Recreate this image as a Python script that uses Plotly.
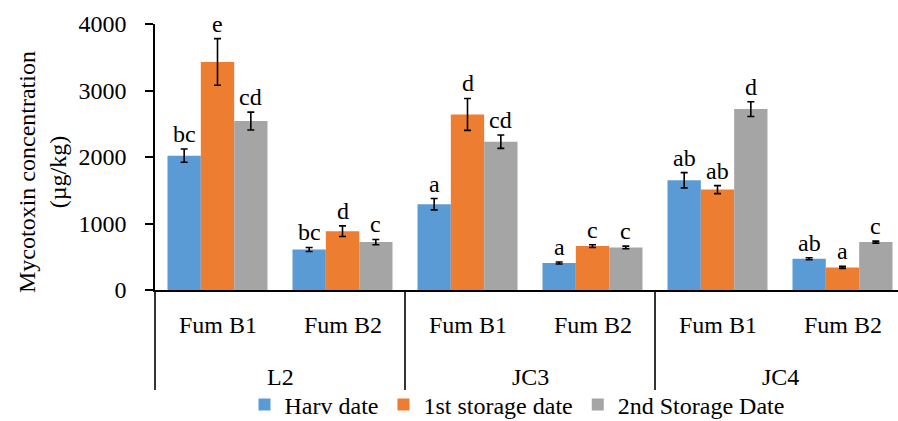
import plotly.graph_objects as go

# ---- data ----
sub_labels = ["Fum B1", "Fum B2", "Fum B1", "Fum B2", "Fum B1", "Fum B2"]
group_labels = ["L2", "JC3", "JC4"]
series_names = ["Harv date", "1st storage date", "2nd Storage Date"]
colors = ["#5B9BD5", "#ED7D31", "#A5A5A5"]

harv = [2020, 610, 1290, 405, 1650, 470]
harv_err = [100, 30, 85, 15, 115, 15]
harv_let = ["bc", "bc", "a", "a", "ab", "ab"]

st1 = [3430, 885, 2640, 660, 1510, 340]
st1_err = [350, 80, 240, 20, 60, 15]
st1_let = ["e", "d", "d", "c", "ab", "a"]

st2 = [2540, 720, 2230, 640, 2720, 720]
st2_err = [135, 40, 100, 20, 110, 15]
st2_let = ["cd", "c", "cd", "c", "d", "c"]

y_ticks = [0, 1000, 2000, 3000, 4000]

# ---- layout geometry ----
W, H = 898, 421
ML, MR, MT, MB = 155, 0, 24, 131
plot_w = W - ML - MR
plot_h = H - MT - MB
cat_px = 125.0
x0 = -0.5
x1 = x0 + plot_w / cat_px

FONT = "Liberation Serif"
fs = 24

def xpaper(v):
    return (v - x0) / (x1 - x0)

def ypaper_px(ypix):
    return (H - MB - ypix) / plot_h

xs = list(range(len(sub_labels)))
vals = [harv, st1, st2]
errs = [harv_err, st1_err, st2_err]
lets = [harv_let, st1_let, st2_let]

fig = go.Figure()
for name, v, e, c in zip(series_names, vals, errs, colors):
    fig.add_trace(go.Bar(
        x=xs, y=v, name=name, marker=dict(color=c, line=dict(width=0)),
        error_y=dict(type="data", array=e, visible=True, color="black",
                     thickness=1.6, width=3.5),
    ))

annotations = []
bargap = 0.2
bw = (1 - bargap) / 3
offsets = [-bw, 0, bw]
for k in range(3):
    for i in xs:
        annotations.append(dict(
            x=i + offsets[k], y=vals[k][i] + errs[k][i], xref="x", yref="y",
            text=lets[k][i], showarrow=False, yanchor="bottom", xanchor="center",
            yshift=0, font=dict(family=FONT, size=fs, color="black")))

# sub-category labels
for i, lab in enumerate(sub_labels):
    annotations.append(dict(
        x=xpaper(i), y=ypaper_px(325), xref="paper", yref="paper",
        text=lab, showarrow=False, xanchor="center", yanchor="middle",
        font=dict(family=FONT, size=fs, color="black")))
# group labels
for g, lab in enumerate(group_labels):
    annotations.append(dict(
        x=xpaper(2 * g + 0.5), y=ypaper_px(377), xref="paper", yref="paper",
        text=lab, showarrow=False, xanchor="center", yanchor="middle",
        font=dict(family=FONT, size=fs, color="black")))
# y-axis title
annotations.append(dict(
    x=(42 - ML) / plot_w, y=ypaper_px(172), xref="paper", yref="paper",
    text="Mycotoxin concentration<br>(µg/kg)", showarrow=False, textangle=-90,
    xanchor="center", yanchor="middle",
    font=dict(family=FONT, size=fs, color="black")))

shapes = []
for g in range(4):
    xb = x0 + 2 * g
    if xb > x1:
        continue
    shapes.append(dict(type="line", xref="paper", yref="paper",
                       x0=xpaper(xb), x1=xpaper(xb), y0=0, y1=ypaper_px(390),
                       line=dict(color="black", width=1.6)))

fig.update_layout(
    width=W, height=H,
    margin=dict(l=ML, r=MR, t=MT, b=MB, pad=0, autoexpand=False),
    plot_bgcolor="white", paper_bgcolor="white",
    barmode="group", bargap=bargap, bargroupgap=0,
    font=dict(family=FONT, size=fs, color="black"),
    xaxis=dict(range=[x0, x1], showticklabels=False, ticks="", showgrid=False,
               zeroline=False, showline=True, linecolor="black", linewidth=1.6,
               automargin=False),
    yaxis=dict(range=[0, 4000], tickvals=y_ticks, showgrid=False, zeroline=False,
               showline=True, linecolor="black", linewidth=1.6,
               ticks="outside", ticklen=8, tickwidth=1.6, tickcolor="black",
               ticklabelstandoff=14, automargin=False,
               tickfont=dict(family=FONT, size=fs, color="black")),
    legend=dict(orientation="h", xref="container", yref="container",
                x=517 / W, xanchor="center",
                y=(H - 405) / H, yanchor="middle", itemwidth=30,
                font=dict(family=FONT, size=fs, color="black"),
                bgcolor="rgba(0,0,0,0)", tracegroupgap=0),
    annotations=annotations, shapes=shapes,
)

fig.write_html("out.html", config={"displayModeBar": False},
               post_script="document.body.style.margin='0';document.body.style.overflow='hidden';")
